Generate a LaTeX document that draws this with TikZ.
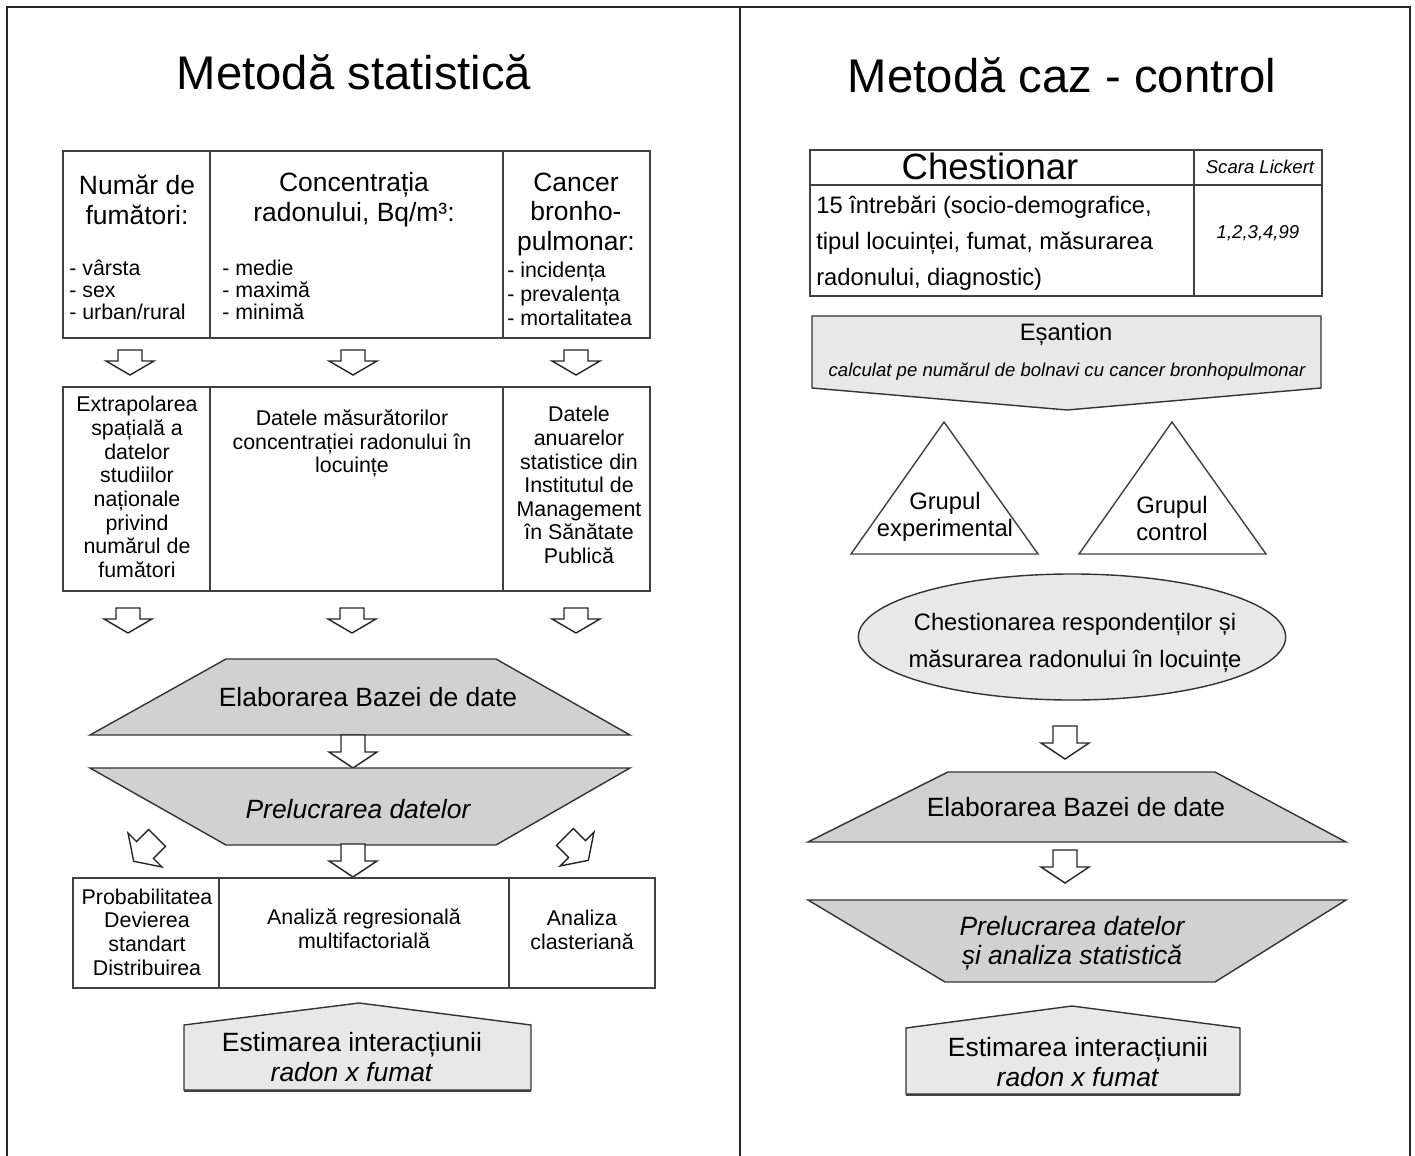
\documentclass[tikz,border=0pt]{standalone}
\usepackage{fontspec}
\setmainfont{Liberation Sans}
\usetikzlibrary{shapes.geometric}
\tikzset{
  frameline/.style={draw=black!85, line width=1.6pt},
  cellline/.style={draw=black!75, line width=1pt},
  darkbox/.style={fill=black!18, draw=black!80, line width=1pt, line join=miter},
  lightbox/.style={fill=black!9, draw=black!80, line width=1pt, line join=miter},
  arrowline/.style={draw=black!85, fill=white, line width=1pt, line join=miter},
  shortarrow/.pic={\draw[arrowline] (-12,-12) -- (12,-12) -- (12,-1) -- (24,-1) -- (0,13) -- (-24,-1) -- (-12,-1) -- cycle;},
  longarrow/.pic={\draw[arrowline] (-12,-17) -- (12,-17) -- (12,0) -- (24,0) -- (0,16) -- (-24,0) -- (-12,0) -- cycle;},
  ttl/.style={font=\fontsize{33.6}{40}\selectfont, inner sep=0pt},
  hd/.style={font=\fontsize{18.8}{21.3}\selectfont, align=center, inner sep=0pt},
  lst/.style={font=\fontsize{15.2}{15.6}\selectfont, align=left, inner sep=0pt, anchor=west},
  lstb/.style={font=\fontsize{15.2}{17}\selectfont, align=left, inner sep=0pt, anchor=west},
  sm/.style={font=\fontsize{15.2}{16.8}\selectfont, align=center, inner sep=0pt},
  est/.style={font=\fontsize{18.8}{21.3}\selectfont, align=center, inner sep=0pt},
  rt/.style={font=\fontsize{16.9}{25.8}\selectfont, inner sep=0pt},
  grp/.style={font=\fontsize{16.9}{19.2}\selectfont, align=center, inner sep=0pt},
  tiny/.style={font=\fontsize{13.2}{15}\selectfont\itshape, inner sep=0pt},
}
\begin{document}
\begin{tikzpicture}[x=0.025cm, y=-0.025cm]
\useasboundingbox (0,0) rectangle (1415,1156);
\draw[frameline] (7,1156) -- (7,7) -- (1410,7) -- (1410,1156);
\draw[frameline] (740,7) -- (740,1156);

% Metoda statistica
\node[ttl] (tstat) at (354,72) {Metodă statistică};

\draw[cellline] (63,151) rectangle (650,338);
\draw[cellline] (210,151) -- (210,338) (503,151) -- (503,338);
\node[hd] (fum) at (137,199.5) {Număr de\\fumători:};
\node[lst] (fumlist) at (69,290) {- vârsta\\- sex\\- urban/rural};
\node[hd] (conc) at (354,199.5) {Concentrația\\radonului, Bq/m³:};
\node[lst] (conclist) at (222,290) {- medie\\- maximă\\- minimă};
\node[hd] (canc) at (576,214.5) {Cancer\\bronho-\\pulmonar:};
\node[lstb] (canclist) at (507,294) {- incidența\\- prevalența\\- mortalitatea};

\pic at (130,362) {shortarrow};
\pic at (353,362) {shortarrow};
\pic at (576,362) {shortarrow};

\draw[cellline] (63,387) rectangle (650,591);
\draw[cellline] (210,387) -- (210,591) (503,387) -- (503,591);
\node[sm] (extra) at (137,487) {Extrapolarea\\spațială a\\datelor\\studiilor\\naționale\\privind\\numărul de\\fumători};
\node[sm] (masur) at (352,443.5) {Datele măsurătorilor\\concentrației radonului în\\locuințe};
\node[sm] (anuar) at (579,485) {Datele\\anuarelor\\statistice din\\Institutul de\\Management\\în Sănătate\\Publică};

\pic at (128,620) {shortarrow};
\pic at (352,620) {shortarrow};
\pic at (576,620) {shortarrow};

\draw[darkbox] (226,659) -- (496,659) -- (630,735) -- (90,735) -- cycle;
\node[hd] (elab) at (368,697) {Elaborarea Bazei de date};
\pic at (353,752) {longarrow};
\draw[darkbox] (90,768) -- (630,768) -- (496,845) -- (226,845) -- cycle;
\node[hd, font=\fontsize{18.8}{21.3}\selectfont\itshape] (prel) at (358,809) {Prelucrarea datelor};

\pic[rotate=-45] at (145,850) {longarrow};
\pic at (353,861) {longarrow};
\pic[rotate=45] at (577,849) {longarrow};

\draw[cellline] (73,878) rectangle (655,988);
\draw[cellline] (219,878) -- (219,988) (509,878) -- (509,988);
\node[sm] (prob) at (147,932) {Probabilitatea\\Devierea\\standart\\Distribuirea};
\node[sm] (regr) at (364,929) {Analiză regresională\\multifactorială};
\node[sm] (clas) at (582,930) {Analiza\\clasteriană};

\draw[lightbox] (184,1090) -- (184,1025) -- (359,1003) -- (531,1025) -- (531,1090) -- cycle;
\draw[black!75, line width=1.6pt] (184,1091) -- (531,1091);
\node[est] (estl) at (352,1057.5) {Estimarea interacțiunii\\\textit{radon x fumat}};

% Metoda caz - control
\node[ttl] (tcaz) at (1062,75) {Metodă caz - control};

\draw[cellline] (810,150) rectangle (1322,296);
\draw[cellline] (810,185) -- (1322,185) (1194,150) -- (1194,296);
\node[font=\fontsize{26}{30}\selectfont, inner sep=0pt] (chest) at (990,166) {Chestionar};
\node[tiny] (scara) at (1260,167) {Scara Lickert};
\node[rt, align=left, anchor=west] (intreb) at (816,243) {15 întrebări (socio-demografice,\\tipul locuinței, fumat, măsurarea\\radonului, diagnostic)};
\node[tiny] (lik) at (1258,233) {1,2,3,4,99};

\draw[lightbox] (812,316) -- (1321,316) -- (1321,388) -- (1067,410) -- (812,388) -- cycle;
\node[rt] (esant) at (1066,334) {Eșantion};
\node[tiny] (calc) at (1067,372) {calculat pe numărul de bolnavi cu cancer bronhopulmonar};

\draw[cellline, line join=miter] (944,422) -- (1038,554) -- (851,554) -- cycle;
\draw[cellline, line join=miter] (1172,422) -- (1266,554) -- (1079,554) -- cycle;
\node[grp] (gexp) at (945,516.5) {Grupul\\experimental};
\node[grp] (gctl) at (1172,519) {Grupul\\control};

\node[ellipse, lightbox, minimum width=10.68cm, minimum height=3.15cm, inner sep=0pt] (resp) at (1072,637) {};
\node[rt, align=center, font=\fontsize{16.9}{26.3}\selectfont] (resptxt) at (1075,643) {Chestionarea respondenților și\\măsurarea radonului în locuințe};

\pic at (1065,743) {longarrow};
\draw[darkbox] (948,772) -- (1215,772) -- (1346,842) -- (808,842) -- cycle;
\node[hd] (elabr) at (1076,807) {Elaborarea Bazei de date};
\pic at (1065,867) {longarrow};
\draw[darkbox] (808,900) -- (1346,900) -- (1215,982) -- (945,982) -- cycle;
\node[hd, font=\fontsize{18.8}{20.6}\selectfont\itshape] (prelr) at (1072,943.5) {Prelucrarea datelor\\și analiza statistică};

\draw[lightbox] (906,1094) -- (906,1028) -- (1072,1006) -- (1240,1028) -- (1240,1094) -- cycle;
\draw[black!75, line width=1.6pt] (906,1095) -- (1240,1095);
\node[est] (estr) at (1078,1062.5) {Estimarea interacțiunii\\\textit{radon x fumat}};
\end{tikzpicture}
\end{document}
